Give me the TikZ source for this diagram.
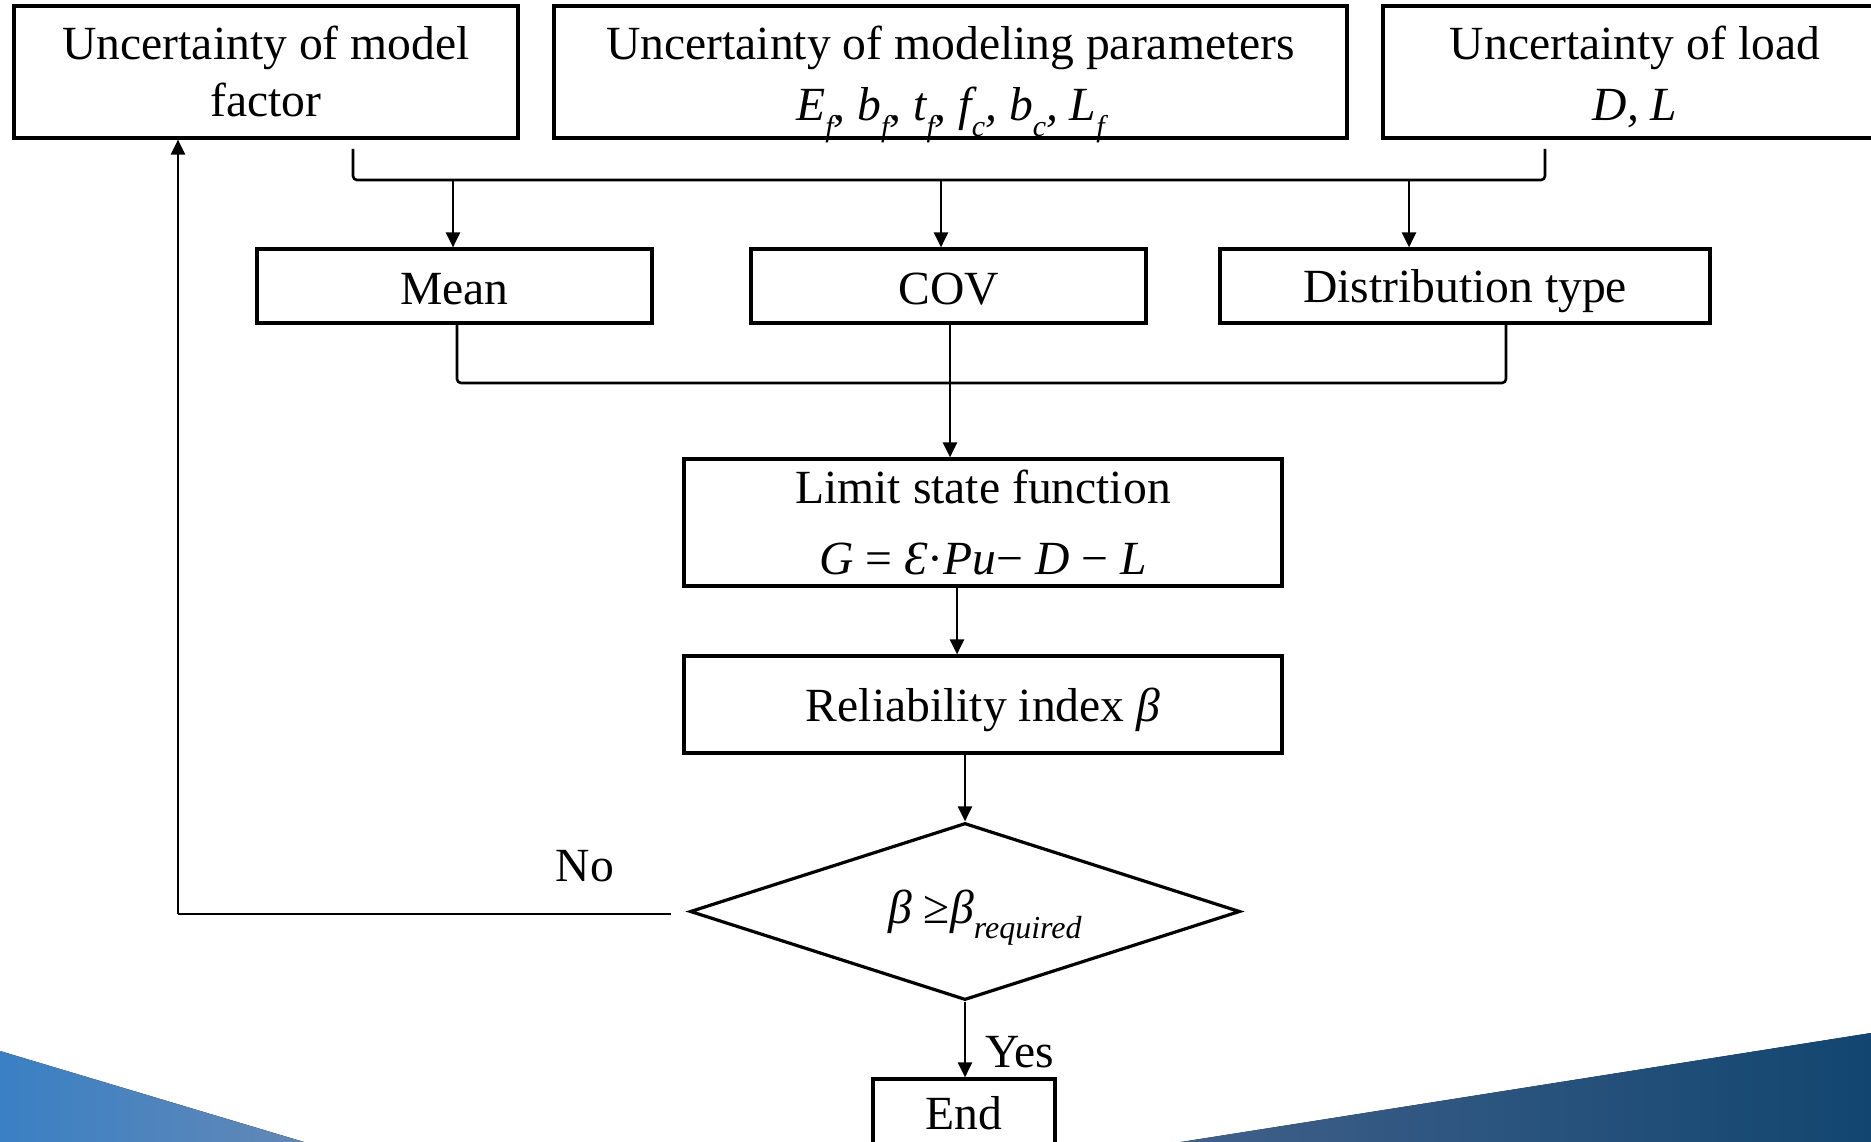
\documentclass[tikz,border=0pt]{standalone}
\usepackage{fontspec}
\setmainfont{Liberation Serif}
\usetikzlibrary{arrows.meta,shapes.geometric}
\definecolor{lgA}{RGB}{58,128,196}
\definecolor{lgB}{RGB}{98,136,182}
\definecolor{rgA}{RGB}{64,96,138}
\definecolor{rgB}{RGB}{18,70,112}
\newcommand\lsub[1]{\raisebox{-0.32em}[0pt][0pt]{\fontsize{30}{30}\selectfont\itshape #1}}
\newcommand\rsub[1]{\raisebox{-0.32em}[0pt][0pt]{\fontsize{32}{32}\selectfont\itshape #1}}
\newcommand\hstrut[2]{\rule[-#2]{0pt}{\dimexpr#1+#2\relax}}
\begin{document}
\begin{tikzpicture}[x=1pt,y=-1pt,
  box/.style={draw,line width=3.2pt,inner sep=0pt,align=center,font=\fontsize{47.6}{58}\selectfont},
  conn/.style={line width=2.6pt,rounded corners=4pt},
  arr/.style={line width=2.4pt,-{Triangle[length=15pt,width=14pt]}},
  lbl/.style={font=\fontsize{47.6}{58}\selectfont,inner sep=0pt}]
\useasboundingbox (0,0) rectangle (1871,1142);
\clip (0,0) rectangle (1871,1142);
% background shapes
\fill[left color=lgA,right color=lgB] (0,1051) -- (304,1142) -- (0,1142) -- cycle;
\fill[left color=rgA,right color=rgB] (1181,1142) -- (1871,1033) -- (1871,1142) -- cycle;
% top boxes
\node[box,font=\fontsize{47.6}{57}\selectfont,minimum width=504pt,minimum height=132pt] (mf) at (266,72)
  {\hstrut{47pt}{0pt}Uncertainty of model\\factor\hstrut{0pt}{15pt}};
\node[box,font=\fontsize{47.6}{61}\selectfont,minimum width=793pt,minimum height=132pt] (mp) at (950.5,72)
  {\hstrut{47pt}{0pt}Uncertainty of modeling parameters\\\itshape E\lsub{f}, b\lsub{f}, t\lsub{f}, f\lsub{c}, b\lsub{c}, L\lsub{f}\hstrut{0pt}{10pt}};
\node[box,font=\fontsize{47.6}{61}\selectfont,minimum width=504pt,minimum height=132pt] (ld) at (1635,72)
  {\hstrut{47pt}{0pt}Uncertainty of load\\\itshape D, L\hstrut{0pt}{10pt}};
% second row
\node[box,minimum width=395pt,minimum height=74pt] (mean) at (454.5,286) {\hstrut{44pt}{8pt}Mean};
\node[box,minimum width=395pt,minimum height=74pt] (cov) at (948.5,286) {\hstrut{44pt}{8pt}COV};
\node[box,minimum width=490pt,minimum height=74pt] (dist) at (1465,286) {\hstrut{44pt}{8pt}Distribution type};
% main chain
\node[box,minimum width=598pt,minimum height=127pt] (lim) at (983,522.5) {Limit state function\\[13pt]{\itshape G} = {\itshape Ɛ}·{\itshape Pu}− {\itshape D} − {\itshape L}};
\node[box,minimum width=598pt,minimum height=97pt] (rel) at (983,704.5) {\hstrut{45pt}{10pt}Reliability index {\itshape β}};
\node[diamond,draw,line width=3.2pt,inner sep=0pt,minimum width=550pt,minimum height=177pt] (dec) at (965,911.5) {};
\node[lbl] (dectext) at (985,912) {{\itshape β} ≥{\itshape β}\rsub{required}};
\node[box,minimum width=182pt,minimum height=76pt] (end) at (964,1117) {\hstrut{32pt}{8pt}End};
% top bracket
\coordinate (tl) at (353,149);
\coordinate (tr) at (1545,149);
\coordinate (tb) at (0,180);
\draw[conn] (tl) -- (tl |- tb) -- (tr |- tb) -- (tr);
\coordinate (ma) at ([xshift=-1.5pt]mean.north);
\coordinate (ca) at ([xshift=-7.5pt]cov.north);
\coordinate (da) at ([xshift=-56pt]dist.north);
\draw[arr] (ma |- tb) -- (ma);
\draw[arr] (ca |- tb) -- (ca);
\draw[arr] (da |- tb) -- (da);
% bottom bracket
\coordinate (bb) at (0,383);
\coordinate (mb) at ([xshift=2.5pt]mean.south);
\coordinate (db) at ([xshift=41pt]dist.south);
\draw[conn] (mb) -- (mb |- bb) -- (db |- bb) -- (db);
\draw[arr] ([xshift=1.5pt]cov.south) -- ([xshift=1.5pt]cov.south |- lim.north);
% chain arrows
\draw[arr] ([xshift=-26pt]lim.south) -- ([xshift=-26pt]rel.north);
\draw[arr] (rel.south -| dec.north) -- (dec.north);
\draw[arr] (dec.south) -- (dec.south |- end.north);
\node[lbl,anchor=west] (yes) at (985,1052) {Yes};
% No loop
\coordinate (nostart) at (671,914);
\coordinate (nocorner) at (178,914);
\draw[line width=2.4pt] (nostart) -- (nocorner);
\draw[arr] (nocorner) -- (nocorner |- mf.south);
\node[lbl] (no) at (585,866) {No};
\end{tikzpicture}
\end{document}
